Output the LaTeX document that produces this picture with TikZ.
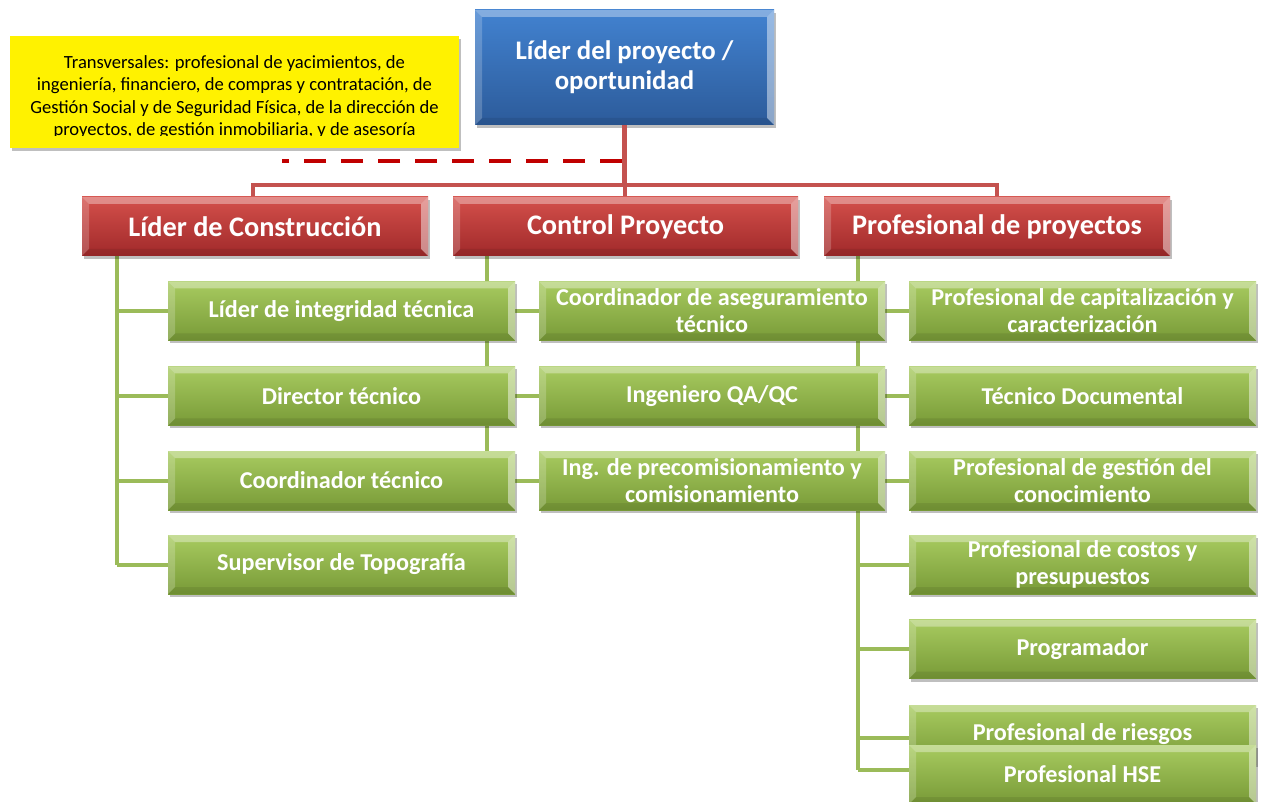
\documentclass[tikz,border=0pt]{standalone}
\usepackage{fontspec}
\setmainfont{Carlito}
\usetikzlibrary{shadows,calc}
\definecolor{blueT}{HTML}{4282D0}
\definecolor{blueB}{HTML}{2C5B9A}
\definecolor{redT}{HTML}{D4504B}
\definecolor{redB}{HTML}{A0292A}
\definecolor{greenT}{HTML}{A8CB60}
\definecolor{greenB}{HTML}{789A37}
\definecolor{redcon}{HTML}{C4524F}
\definecolor{greencon}{HTML}{9BBB59}
\definecolor{dashred}{HTML}{C00000}
\tikzset{
  bevel/.style={path picture={
    \fill[white,opacity=0.35] (path picture bounding box.north west) -- (path picture bounding box.north east)
      -- ([xshift=-7pt,yshift=-7pt]path picture bounding box.north east) -- ([xshift=7pt,yshift=-7pt]path picture bounding box.north west) -- cycle;
    \fill[white,opacity=0.2] (path picture bounding box.north west) -- (path picture bounding box.south west)
      -- ([xshift=7pt,yshift=7pt]path picture bounding box.south west) -- ([xshift=7pt,yshift=-7pt]path picture bounding box.north west) -- cycle;
    \fill[white,opacity=0.45] (path picture bounding box.north east) -- (path picture bounding box.south east)
      -- ([xshift=-7pt,yshift=7pt]path picture bounding box.south east) -- ([xshift=-7pt,yshift=-7pt]path picture bounding box.north east) -- cycle;
    \fill[black,opacity=0.08] (path picture bounding box.south west) -- (path picture bounding box.south east)
      -- ([xshift=-7pt,yshift=7pt]path picture bounding box.south east) -- ([xshift=7pt,yshift=7pt]path picture bounding box.south west) -- cycle;
  }},
  box/.style={rectangle, inner sep=0pt, align=center, text=white, bevel,
    drop shadow={shadow xshift=1.5pt, shadow yshift=-3pt, opacity=0.25, fill=black}},
  bluebox/.style={box, top color=blueT, bottom color=blueB, minimum width=299pt, minimum height=115pt,
    font=\fontsize{26.8}{30}\selectfont\bfseries},
  redbox/.style={box, top color=redT, bottom color=redB, minimum width=346pt, minimum height=59pt,
    font=\fontsize{28.3}{32}\selectfont\bfseries},
  greenbox/.style={box, top color=greenT, bottom color=greenB, minimum width=347pt, minimum height=59pt,
    font=\fontsize{24.2}{27}\selectfont\bfseries},
  redline/.style={draw=redcon, line width=4.5pt},
  greenline/.style={draw=greencon, line width=4pt},
  dashline/.style={draw=dashred, line width=4.5pt, dash pattern=on 22pt off 15pt},
}
\begin{document}
\begin{tikzpicture}[x=1pt,y=-1pt]
\useasboundingbox (0,0) rectangle (1262,802);

\coordinate (hub) at (625,185);
\coordinate (dashend) at (282,161);

% top box
\node[bluebox] (top) at (624.5,67.5) {Líder del proyecto /\\oportunidad};

% connectors between top and second level
\draw[dashline] (top.south |- dashend) ++(-2.5pt,0) coordinate (dstart) -- (dashend);
\draw[redline] (top.south) -- (top.south |- hub);
\draw[redline] (253,197) coordinate (r1top) |- (hub) -| (997,197) coordinate (r3top);
\draw[redline] (hub) -- (625,197) coordinate (r2top);

% green spines and branches
\coordinate (sp1) at (117,256);
\coordinate (sp2) at (487,256);
\coordinate (sp3) at (858,256);

\def\rowA{311}\def\rowB{396}\def\rowC{480.5}\def\rowD{564.5}\def\rowE{649}\def\rowF{734.5}\def\rowG{774.5}

\draw[greenline] (sp1) -- (117,\rowD);
\draw[greenline] (sp2) -- (487,\rowC);
\draw[greenline] (sp3) -- (858,770);
\foreach \y in {\rowA,\rowB,\rowC,\rowD} \draw[greenline] (117,\y) -- (168,\y);
\foreach \y in {\rowA,\rowB,\rowC} \draw[greenline] (487,\y) -- (539,\y);
\foreach \y in {\rowA,\rowB,\rowC,\rowD,\rowE} \draw[greenline] (858,\y) -- (909,\y);
\draw[greenline] (858,738) -- (909,738);
\draw[greenline] (858,770) -- (909,770);

% red boxes
\node[redbox] (r1) at (255,226.5) {Líder de Construcción};
\node[redbox, minimum width=345pt] (r2) at (625.5,226.5) {Control Proyecto};
\node[redbox] (r3) at (997,226.5) {Profesional de proyectos};

% column 1
\node[greenbox] (a1) at (341.5,\rowA) {Líder de integridad técnica};
\node[greenbox] (a2) at (341.5,\rowB) {Director técnico};
\node[greenbox] (a3) at (341.5,\rowC) {Coordinador técnico};
\node[greenbox] (a4) at (341.5,\rowD) {Supervisor de Topografía};
% column 2
\node[greenbox, minimum width=346pt] (b1) at (712,\rowA) {Coordinador de aseguramiento\\técnico};
\node[greenbox, minimum width=346pt] (b2) at (712,\rowB) {Ingeniero QA/QC};
\node[greenbox, minimum width=346pt] (b3) at (712,\rowC) {Ing. de precomisionamiento y\\comisionamiento};
% column 3
\node[greenbox] (c1) at (1082.5,\rowA) {Profesional de capitalización y\\caracterización};
\node[greenbox] (c2) at (1082.5,\rowB) {Técnico Documental};
\node[greenbox] (c3) at (1082.5,\rowC) {Profesional de gestión del\\conocimiento};
\node[greenbox] (c4) at (1082.5,\rowD) {Profesional de costos y\\presupuestos};
\node[greenbox] (c5) at (1082.5,\rowE) {Programador};
\node[greenbox] (c6) at (1082.5,\rowF) {Profesional de riesgos};
\node[greenbox] (c7) at (1082.5,\rowG) {Profesional HSE};

% yellow note
\node[rectangle, fill=yellow, minimum width=449pt, minimum height=112pt, inner sep=0pt,
  drop shadow={shadow xshift=1.5pt, shadow yshift=-3pt, opacity=0.25, fill=black}] (note) at (234.5,92) {};
\begin{scope}
\clip (10,36) rectangle (459,136);
\node[align=center, inner sep=0pt, font=\fontsize{18.6}{22.5}\selectfont] (notetext) at (234.5,97)
 {Transversales: profesional de yacimientos, de\\ingeniería, financiero, de compras y contratación, de\\Gestión Social y de Seguridad Física, de la dirección de\\proyectos, de gestión inmobiliaria, y de asesoría};
\end{scope}
\end{tikzpicture}
\end{document}
